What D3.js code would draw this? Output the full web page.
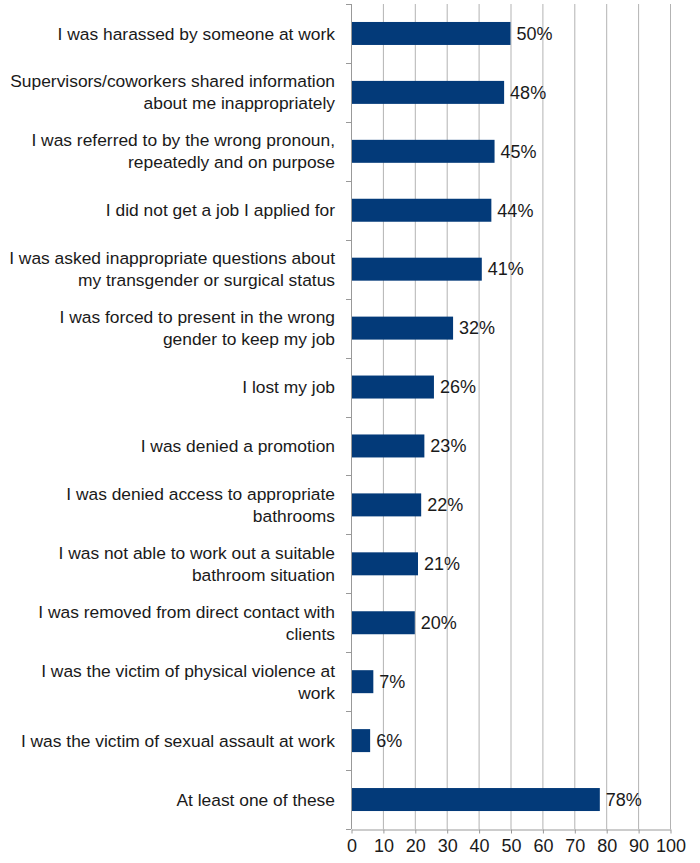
<!DOCTYPE html>
<html lang="en">
<head>
  <meta charset="UTF-8" />
  <title>Workplace experiences</title>
  <style>
    body {
      margin: 0;
      background-color: #fff;
      font-family: "Liberation Sans", Arial, sans-serif;
    }

    svg {
      display: block;
    }

    .grid line {
      stroke: #b3b3b3;
      stroke-width: 1px;
    }

    .axis path,
    .axis line {
      stroke: #999;
    }

    .cat-label {
      fill: #1a1a1a;
      font-size: 17.4px;
    }

    .value-label,
    .x-axis text {
      fill: #1a1a1a;
      font-size: 18px;
    }
  </style>
</head>
<body>
  <svg></svg>

  <script src="https://d3js.org/d3.v7.min.js"></script>
  <script>
    const categories = [
      ["I was harassed by someone at work"],
      ["Supervisors/coworkers shared information", "about me inappropriately"],
      ["I was referred to by the wrong pronoun,", "repeatedly and on purpose"],
      ["I did not get a job I applied for"],
      ["I was asked inappropriate questions about", "my transgender or surgical status"],
      ["I was forced to present in the wrong", "gender to keep my job"],
      ["I lost my job"],
      ["I was denied a promotion"],
      ["I was denied access to appropriate", "bathrooms"],
      ["I was not able to work out a suitable", "bathroom situation"],
      ["I was removed from direct contact with", "clients"],
      ["I was the victim of physical violence at", "work"],
      ["I was the victim of sexual assault at work"],
      ["At least one of these"]
    ];
    const values = [50, 48, 45, 44, 41, 32, 26, 23, 22, 21, 20, 7, 6, 78];
    const xTicks = [0, 10, 20, 30, 40, 50, 60, 70, 80, 90, 100];

    const width = 700;
    const height = 863;
    const margin = { top: 4, right: 30, bottom: 34, left: 351 };

    const svg = d3.select("svg")
      .attr("width", width)
      .attr("height", height);

    const x = d3.scaleLinear()
      .domain([0, 100])
      .range([margin.left, width - margin.right]);

    const y = d3.scaleBand()
      .domain(d3.range(categories.length))
      .range([margin.top, height - margin.bottom])
      .paddingInner(0.61)
      .paddingOuter(0.305);

    // vertical gridlines
    svg.append("g")
      .attr("class", "grid")
      .selectAll("line")
      .data(xTicks.slice(1))
      .join("line")
      .attr("x1", d => x(d) + 0.5)
      .attr("x2", d => x(d) + 0.5)
      .attr("y1", margin.top)
      .attr("y2", height - margin.bottom);

    // bars
    svg.append("g")
      .selectAll("rect")
      .data(values)
      .join("rect")
      .attr("x", x(0))
      .attr("y", (d, i) => y(i))
      .attr("width", d => x(d) - x(0))
      .attr("height", y.bandwidth())
      .attr("fill", "#033a79");

    // value labels
    svg.append("g")
      .selectAll("text")
      .data(values)
      .join("text")
      .attr("class", "value-label")
      .attr("x", d => x(d) + 6)
      .attr("y", (d, i) => y(i) + y.bandwidth() / 2)
      .attr("dy", "0.35em")
      .text(d => d + "%");

    // left axis: line with ticks at band boundaries
    const step = y.step();
    const left = svg.append("g").attr("class", "axis");
    left.append("line")
      .attr("x1", margin.left + 0.5)
      .attr("x2", margin.left + 0.5)
      .attr("y1", margin.top)
      .attr("y2", height - margin.bottom);
    left.selectAll("line.tick")
      .data(d3.range(categories.length + 1))
      .join("line")
      .attr("class", "tick")
      .attr("x1", margin.left - 5)
      .attr("x2", margin.left)
      .attr("y1", i => Math.round(margin.top + i * step) + 0.5)
      .attr("y2", i => Math.round(margin.top + i * step) + 0.5);

    // category labels
    const lineGap = 22;
    svg.append("g")
      .selectAll("text")
      .data(categories)
      .join("text")
      .attr("class", "cat-label")
      .attr("text-anchor", "end")
      .attr("transform", (d, i) => `translate(${margin.left - 16},${y(i) + y.bandwidth() / 2})`)
      .each(function(lines) {
        const t = d3.select(this);
        lines.forEach((s, k) => {
          t.append("tspan")
            .attr("x", 0)
            .attr("y", (k - (lines.length - 1) / 2) * lineGap)
            .attr("dy", "0.35em")
            .text(s);
        });
      });

    // bottom axis
    svg.append("g")
      .attr("class", "axis x-axis")
      .attr("transform", `translate(0.5,${height - margin.bottom + 0.5})`)
      .call(d3.axisBottom(x).tickValues(xTicks).tickSize(4).tickSizeOuter(0).tickPadding(6))
      .call(g => g.selectAll("text").attr("font-family", null).attr("font-size", null));
  </script>
</body>
</html>
